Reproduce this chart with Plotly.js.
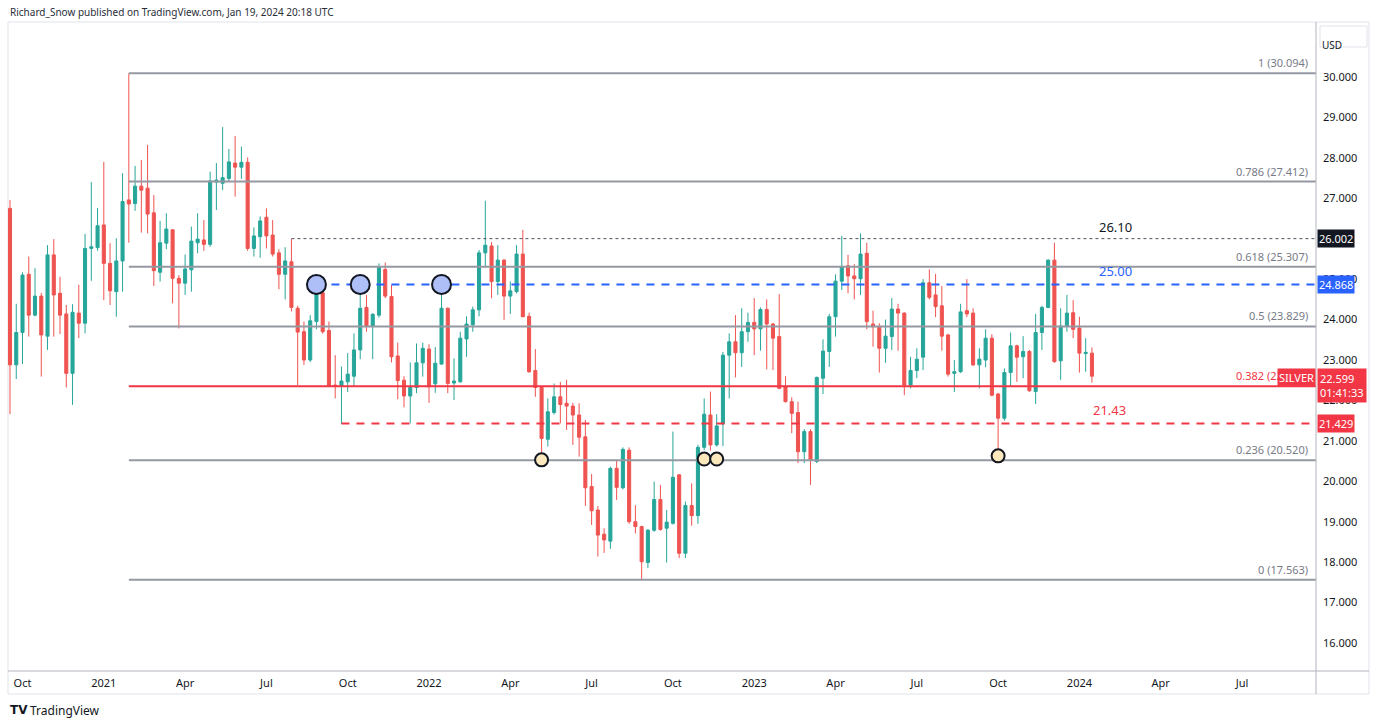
<!DOCTYPE html>
<html>
<head>
<meta charset="utf-8">
<script src="https://cdn.plot.ly/plotly-3.0.1.min.js"></script>
<style>html,body{margin:0;padding:0;background:#fff;}#chart{width:1379px;height:725px;}</style>
</head>
<body>
<div id="chart"></div>
<script>
// ---------- DATA ----------
const weeks = ['2020-09-21','2020-09-28','2020-10-05','2020-10-12','2020-10-19','2020-10-26','2020-11-02','2020-11-09','2020-11-16','2020-11-23','2020-11-30','2020-12-07','2020-12-14','2020-12-21','2020-12-28',
'2021-01-04','2021-01-11','2021-01-18','2021-01-25','2021-02-01','2021-02-08','2021-02-15','2021-02-22','2021-03-01','2021-03-08','2021-03-15','2021-03-22','2021-03-29','2021-04-05','2021-04-12','2021-04-19','2021-04-26','2021-05-03','2021-05-10','2021-05-17','2021-05-24','2021-05-31','2021-06-07','2021-06-14','2021-06-21','2021-06-28','2021-07-05','2021-07-12','2021-07-19','2021-07-26','2021-08-02','2021-08-09','2021-08-16','2021-08-23','2021-08-30','2021-09-06','2021-09-13','2021-09-20','2021-09-27','2021-10-04','2021-10-11','2021-10-18','2021-10-25','2021-11-01','2021-11-08','2021-11-15','2021-11-22','2021-11-29','2021-12-06','2021-12-13','2021-12-20','2021-12-27',
'2022-01-03','2022-01-10','2022-01-17','2022-01-24','2022-01-31','2022-02-07','2022-02-14','2022-02-21','2022-02-28','2022-03-07','2022-03-14','2022-03-21','2022-03-28','2022-04-04','2022-04-11','2022-04-18','2022-04-25','2022-05-02','2022-05-09','2022-05-16','2022-05-23','2022-05-30','2022-06-06','2022-06-13','2022-06-20','2022-06-27','2022-07-04','2022-07-11','2022-07-18','2022-07-25','2022-08-01','2022-08-08','2022-08-15','2022-08-22','2022-08-29','2022-09-05','2022-09-12','2022-09-19','2022-09-26','2022-10-03','2022-10-10','2022-10-17','2022-10-24','2022-10-31','2022-11-07','2022-11-14','2022-11-21','2022-11-28','2022-12-05','2022-12-12','2022-12-19','2022-12-26',
'2023-01-02','2023-01-09','2023-01-16','2023-01-23','2023-01-30','2023-02-06','2023-02-13','2023-02-20','2023-02-27','2023-03-06','2023-03-13','2023-03-20','2023-03-27','2023-04-03','2023-04-10','2023-04-17','2023-04-24','2023-05-01','2023-05-08','2023-05-15','2023-05-22','2023-05-29','2023-06-05','2023-06-12','2023-06-19','2023-06-26','2023-07-03','2023-07-10','2023-07-17','2023-07-24','2023-07-31','2023-08-07','2023-08-14','2023-08-21','2023-08-28','2023-09-04','2023-09-11','2023-09-18','2023-09-25','2023-10-02','2023-10-09','2023-10-16','2023-10-23','2023-10-30','2023-11-06','2023-11-13','2023-11-20','2023-11-27','2023-12-04','2023-12-11','2023-12-18','2023-12-25',
'2024-01-01','2024-01-08','2024-01-15'];

const openP = [26.75,22.88,23.68,25.12,24.11,24.58,23.59,25.60,24.65,24.14,
22.67,24.16,23.91,25.76,25.78,26.34,25.39,24.69,25.45,26.96,
26.87,27.30,27.25,26.64,25.17,25.89,26.22,25.02,24.90,25.23,
25.90,25.97,25.86,27.40,27.37,27.49,27.87,27.77,27.89,25.76,
26.05,26.53,26.09,25.65,25.12,25.43,24.28,23.70,23.00,23.95,
24.66,23.73,22.38,22.36,22.46,22.60,23.25,24.30,23.84,24.11,
25.24,24.57,23.10,22.50,22.11,22.32,22.93,23.27,22.41,22.90,
24.28,22.43,22.46,23.52,23.87,24.24,25.65,25.82,24.94,25.47,
24.58,24.69,25.62,24.08,22.74,22.32,21.04,21.70,22.09,21.93,
21.86,21.64,21.10,19.87,19.29,18.69,18.52,20.32,19.84,20.77,
19.00,18.88,17.99,18.79,19.55,18.84,18.96,20.16,18.22,19.40,
19.15,20.84,21.64,20.90,21.42,23.12,23.45,23.18,23.70,23.93,
23.77,24.25,23.89,23.58,22.34,21.97,21.70,20.73,21.23,20.49,
22.55,23.21,24.07,24.95,25.33,25.08,25.01,25.64,23.89,23.82,
23.29,23.58,24.26,24.16,22.38,22.74,23.07,24.91,24.61,24.34,
23.62,22.67,22.71,24.22,24.16,22.88,23.00,23.54,22.16,21.56,
22.69,23.35,23.08,23.21,22.22,23.68,24.30,25.47,22.98,23.84,
24.17,23.79,23.16,23.17];

const highP = [26.96,24.39,25.17,25.56,25.27,24.66,25.84,25.99,25.06,24.36,
24.38,24.86,26.12,27.40,26.76,27.90,25.89,26.01,27.62,30.09,
27.80,27.95,28.32,27.08,26.44,26.63,26.24,25.10,25.61,26.30,
26.63,26.46,27.66,27.87,28.76,28.22,28.54,28.28,28.01,26.28,
26.55,26.75,26.46,25.74,25.79,26.00,24.34,23.95,24.11,24.87,
24.86,23.95,23.12,22.84,23.17,23.66,24.86,24.61,24.16,25.39,
25.41,24.86,23.43,22.60,22.94,23.41,23.43,23.39,23.32,24.87,
24.30,23.04,23.70,24.08,24.32,25.72,26.94,25.92,25.84,25.50,
24.94,25.84,26.22,24.17,23.27,22.35,22.05,22.42,22.46,22.51,
21.94,21.93,21.52,20.18,19.39,18.84,20.36,20.53,20.84,20.84,
19.41,18.90,18.82,19.99,19.91,19.29,21.23,20.18,19.50,19.95,
20.90,22.05,22.22,21.66,23.20,23.66,24.11,24.28,24.17,24.53,
24.30,24.50,23.92,24.63,22.60,22.08,21.97,21.29,21.29,22.59,
23.51,24.14,25.12,26.07,25.60,25.37,26.13,25.90,24.22,23.91,
24.00,24.53,24.39,24.18,23.08,23.29,25.00,25.24,25.13,24.83,
23.65,23.00,24.39,25.00,24.28,23.29,23.76,23.64,22.19,22.79,
23.68,23.38,23.59,23.25,24.14,24.34,25.49,25.90,24.28,24.61,
24.48,24.07,23.54,23.31];

const lowP = [21.66,22.53,22.90,23.58,24.08,22.59,23.25,23.58,23.64,22.32,
21.89,23.54,23.66,24.96,25.70,24.48,24.36,24.07,24.69,25.90,
26.69,26.15,26.13,24.83,24.94,25.74,24.40,23.78,24.61,24.69,
25.64,25.70,25.80,26.71,27.20,27.41,27.04,27.48,25.70,25.56,
25.53,25.76,25.56,24.75,24.50,24.20,22.38,22.88,22.95,23.76,
23.65,22.34,22.05,21.42,22.21,22.34,23.02,23.70,23.02,24.05,
24.53,22.94,22.03,21.83,21.43,22.18,22.59,21.94,22.19,22.88,
22.18,22.01,22.44,23.08,23.70,24.08,25.29,24.53,24.61,23.99,
24.14,24.65,24.06,22.68,22.09,20.45,20.86,21.65,21.43,21.27,
20.90,20.61,19.39,18.92,18.14,18.23,18.33,19.54,19.80,18.95,
18.71,17.56,17.85,18.75,18.78,17.99,18.93,18.10,18.10,18.90,
18.95,20.77,20.76,20.86,20.87,22.05,22.57,22.83,23.45,23.12,
23.23,22.77,22.75,22.28,21.95,21.19,20.45,20.45,19.91,20.45,
22.16,22.83,23.58,24.73,24.65,24.50,24.61,23.76,23.33,22.69,
22.93,23.25,23.23,22.13,22.30,22.55,22.75,24.50,24.06,23.23,
22.59,22.21,22.68,24.06,22.85,22.30,22.82,22.10,20.71,21.50,
22.36,22.46,22.55,22.21,21.91,23.25,24.28,22.93,22.51,23.70,
23.54,22.69,22.71,22.44];

const closeP = [22.88,23.68,25.10,24.11,24.58,23.62,25.60,24.61,24.11,22.67,
24.18,23.91,25.76,25.80,26.32,25.39,24.71,25.45,26.92,26.86,
27.30,27.20,26.61,25.21,25.90,26.24,25.02,24.90,25.25,25.94,
25.99,25.86,27.43,27.45,27.51,27.90,27.77,27.89,25.76,26.07,
26.44,26.07,25.62,25.12,25.45,24.30,23.69,23.00,23.97,24.86,
23.70,22.36,22.36,22.48,22.65,23.25,24.28,23.84,24.13,25.29,
24.58,23.08,22.49,22.11,22.32,22.93,23.29,22.34,22.92,24.28,
22.42,22.48,23.54,23.89,24.24,25.65,25.84,24.94,25.47,24.58,
24.71,25.62,24.07,22.71,22.32,21.06,21.72,22.09,21.90,21.86,
21.64,21.09,19.84,19.27,18.67,18.55,20.32,19.85,20.79,19.00,
18.88,18.01,18.79,19.55,18.81,18.99,20.10,18.22,19.40,19.15,
20.84,21.66,20.90,21.37,23.12,23.45,23.18,23.70,23.93,23.77,
24.25,23.89,23.54,22.30,21.97,21.68,20.73,21.23,20.53,22.57,
23.22,24.07,24.95,25.31,25.08,25.01,25.62,23.95,23.82,23.29,
23.59,24.26,24.16,22.38,22.74,23.02,24.91,24.55,24.32,23.59,
22.65,22.71,24.19,24.14,22.88,23.02,23.54,22.13,21.56,22.69,
23.35,23.07,23.21,22.24,23.68,24.30,25.47,22.96,23.84,24.16,
23.76,23.17,23.19,22.60];

// Fibonacci retracement
const fibRatios = ['1','0.786','0.618','0.5','0.382','0.236','0'];
const fibLevels = [30.094, 27.412, 25.307, 23.829, 22.350, 20.520, 17.563];
const fibStart = '2021-02-01';

// Drawn levels
const resistLevel = 26.002, resistLabel = '26.10', resistStart = '2021-08-02';
const blueLevel = 24.868, blueLabel = '25.00', blueStart = '2021-08-30';
const supportLevel = 21.429, supportLabel = '21.43', supportStart = '2021-09-27';

// Touch markers
const topTouchDates = ['2021-08-30','2021-10-18','2022-01-17'];
const bottomTouchDates = ['2022-05-09','2022-11-07','2022-11-21','2023-10-02'];
const bottomTouchPrices = [20.53, 20.55, 20.55, 20.63];

const lastPrice = 22.599, countdown = '01:41:33', symbol = 'SILVER';

// price-scale labels (26.000 sits under the 26.002 tag in the reference)
const yTicks = [16,17,18,19,20,21,22,23,24,25,27,28,29,30];
const xTickDates = ['2020-10-05','2021-01-04','2021-04-05','2021-07-05','2021-10-04','2022-01-03','2022-04-04','2022-07-04','2022-10-03','2023-01-02','2023-04-03','2023-07-03','2023-10-02','2024-01-01','2024-04-01','2024-07-01'];
const xTickLabels = ['Oct','2021','Apr','Jul','Oct','2022','Apr','Jul','Oct','2023','Apr','Jul','Oct','2024','Apr','Jul'];

// ---------- CHART ----------
const xStart = '2020-09-18 18:16', xEnd = '2024-09-21 19:12';
const UP = '#26a69a', DOWN = '#ef5350', RED = '#f23645', BLUE = '#2962ff', GRID = '#9598a1';

const trace = {
  type: 'candlestick', x: weeks, open: openP, high: highP, low: lowP, close: closeP,
  increasing: {line: {color: UP, width: 1}, fillcolor: UP},
  decreasing: {line: {color: DOWN, width: 1}, fillcolor: DOWN},
  whiskerwidth: 0, hoverinfo: 'skip', showlegend: false
};

const shapes = [];
const annotations = [];
const px = p => (p - 8) / 1308;        // pixel x -> paper
const py = p => (671 - p) / 649;       // pixel y -> paper

fibLevels.forEach((lv, i) => {
  const isRed = fibRatios[i] === '0.382';
  shapes.push({type: 'line', xref: 'x', yref: 'y', x0: fibStart, x1: xEnd, y0: lv, y1: lv,
    line: {color: isRed ? RED : GRID, width: 2}});
  annotations.push({xref: 'paper', yref: 'y', x: px(1310), y: lv, xanchor: 'right', yanchor: 'bottom', yshift: 1,
    text: fibRatios[i] + ' (' + lv.toFixed(3) + ')', showarrow: false,
    font: {size: 11, color: isRed ? RED : '#787b86'}});
});

shapes.push({type: 'line', xref: 'x', yref: 'y', x0: resistStart, x1: xEnd, y0: resistLevel, y1: resistLevel,
  line: {color: '#50535e', width: 1, dash: '3px,3px'}});
shapes.push({type: 'line', xref: 'x', yref: 'y', x0: blueStart, x1: xEnd, y0: blueLevel, y1: blueLevel,
  line: {color: BLUE, width: 2, dash: '8px,7px'}});
shapes.push({type: 'line', xref: 'x', yref: 'y', x0: supportStart, x1: xEnd, y0: supportLevel, y1: supportLevel,
  line: {color: RED, width: 2, dash: '8px,7px'}});

topTouchDates.forEach(d => {
  shapes.push({type: 'circle', xref: 'x', yref: 'y', xsizemode: 'pixel', ysizemode: 'pixel',
    xanchor: d, yanchor: blueLevel, x0: -9.5, x1: 9.5, y0: -9.5, y1: 9.5,
    fillcolor: '#aebff7', line: {color: '#131722', width: 2}});
});
bottomTouchDates.forEach((d, i) => {
  shapes.push({type: 'circle', xref: 'x', yref: 'y', xsizemode: 'pixel', ysizemode: 'pixel',
    xanchor: d, yanchor: bottomTouchPrices[i], x0: -6.5, x1: 6.5, y0: -6.5, y1: 6.5,
    fillcolor: '#fbe8bd', line: {color: '#131722', width: 2}});
});

// frame
shapes.push({type: 'rect', xref: 'paper', yref: 'paper', x0: 0, x1: px(1369), y0: py(694), y1: py(22),
  line: {color: '#e0e3eb', width: 1}, layer: 'below'});
shapes.push({type: 'line', xref: 'paper', yref: 'paper', x0: 1, x1: 1, y0: py(694), y1: py(22),
  line: {color: '#b2b5be', width: 1}});
shapes.push({type: 'line', xref: 'paper', yref: 'paper', x0: 0, x1: px(1369), y0: 0, y1: 0,
  line: {color: '#b2b5be', width: 1}});
shapes.push({type: 'rect', xref: 'paper', yref: 'paper', x0: px(1320), x1: px(1367), y0: py(47), y1: py(26),
  line: {color: '#e0e3eb', width: 1}, fillcolor: '#ffffff'});

// drawn text labels
annotations.push({xref: 'paper', yref: 'y', x: px(1134), y: resistLevel, yanchor: 'bottom', yshift: 1,
  text: resistLabel, showarrow: false, font: {size: 13, color: '#131722'}});
annotations.push({xref: 'paper', yref: 'y', x: px(1134), y: blueLevel, yanchor: 'bottom', yshift: 2,
  text: blueLabel, showarrow: false, font: {size: 13, color: BLUE}});
annotations.push({xref: 'paper', yref: 'y', x: px(1128), y: supportLevel, yanchor: 'bottom', yshift: 3,
  text: supportLabel, showarrow: false, font: {size: 13, color: RED}});

// axis tags
const tag = (y, text, bg, extra) => Object.assign({xref: 'paper', yref: 'y', x: px(1317), y: y, xanchor: 'left', yanchor: 'middle',
  text: text, showarrow: false, bgcolor: bg, borderpad: 1, font: {size: 11, color: '#ffffff'}}, extra || {});
annotations.push(tag(resistLevel, resistLevel.toFixed(3), '#131722'));
annotations.push(tag(blueLevel, blueLevel.toFixed(3), BLUE));
annotations.push(tag(supportLevel, supportLevel.toFixed(3), RED));
annotations.push(tag(lastPrice, lastPrice.toFixed(3) + '<br>' + countdown, RED, {yanchor: 'top', yshift: 8, align: 'left', borderpad: 2}));
annotations.push({xref: 'paper', yref: 'y', x: 1, y: lastPrice, xanchor: 'right', yanchor: 'top', yshift: 8,
  text: symbol, showarrow: false, bgcolor: RED, borderpad: 1, font: {size: 11, color: '#ffffff'}});

annotations.push({xref: 'paper', yref: 'paper', x: px(1343.5), y: py(36.5), text: 'USD', showarrow: false,
  font: {size: 10, color: '#131722'}});

// header / footer
annotations.push({xref: 'paper', yref: 'paper', x: 0, y: py(12), xanchor: 'left', yanchor: 'middle',
  text: 'Richard_Snow published on TradingView.com, Jan 19, 2024 20:18 UTC', showarrow: false,
  font: {size: 10, color: '#2a2e39'}});
annotations.push({xref: 'paper', yref: 'paper', x: 0, y: py(710), xanchor: 'left', yanchor: 'middle',
  text: '<b>TV</b>', showarrow: false, font: {size: 12, color: '#131722', family: 'DejaVu Sans'}});
annotations.push({xref: 'paper', yref: 'paper', x: px(28), y: py(710), xanchor: 'left', yanchor: 'middle',
  text: 'TradingView', showarrow: false, font: {size: 12, color: '#131722'}});

const layout = {
  width: 1379, height: 725, autosize: false,
  margin: {l: 8, r: 63, t: 22, b: 54, pad: 0},
  paper_bgcolor: '#ffffff', plot_bgcolor: '#ffffff', showlegend: false,
  font: {family: 'Noto Sans, sans-serif', size: 11, color: '#131722'},
  xaxis: {type: 'date', range: [xStart, xEnd], rangeslider: {visible: false},
    tickmode: 'array', tickvals: xTickDates, ticktext: xTickLabels, ticklabelstandoff: 4,
    showgrid: false, zeroline: false, showline: false, ticks: '', tickfont: {size: 11, color: '#131722'}, fixedrange: true},
  yaxis: {side: 'right', range: [15.308, 31.36], tickmode: 'array', tickvals: yTicks,
    ticktext: yTicks.map(v => v.toFixed(3)), showgrid: false, zeroline: false, showline: false,
    ticks: '', ticklabelstandoff: 6, tickfont: {size: 11, color: '#131722'}, fixedrange: true},
  shapes: shapes, annotations: annotations
};

Plotly.newPlot('chart', [trace], layout, {displayModeBar: false, staticPlot: true});
</script>
</body>
</html>
